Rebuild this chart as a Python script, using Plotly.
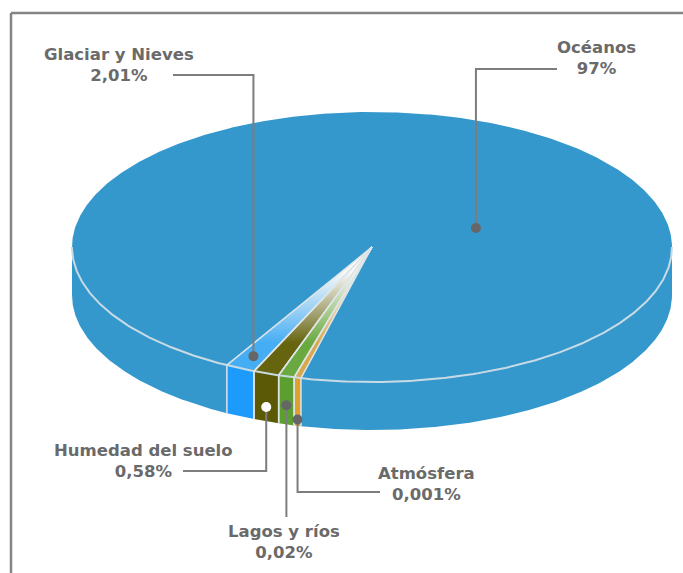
import numpy as np
import plotly.graph_objects as go

# ---- data ---------------------------------------------------------------
categories = ["Océanos", "Glaciar y Nieves", "Humedad del suelo", "Lagos y ríos", "Atmósfera"]
values = [97, 2.01, 0.58, 0.02, 0.001]
value_labels = ["97%", "2,01%", "0,58%", "0,02%", "0,001%"]

# ---- style --------------------------------------------------------------
side_colors = ["#3598cd", "#1d9bfd", "#5b5906", "#5c9e2f", "#e0a12c"]
top_colors = ["#3598cd", "#45adf4", "#67640f", "#69a93f", "#d9a84c"]
TEXT_COLOR = "#6a6a6a"
LEADER_COLOR = "#7d7d7d"
EDGE_COLOR = "#dfe4e7"
RIM_COLOR = "#c8dbe5"

# pie geometry in screen pixels (y grows downward)
CX, CY, RX, RY, DEPTH = 372, 247, 300, 135, 48
START = 103.7          # where the minor slices begin (deg, clockwise on screen)
LOG_FLOOR = 1e-4       # minor slices use a log-scaled width so they stay visible
DEG_PER_DECADE = 1.34

# label placement: anchor face, position along slice, radial/depth fraction,
# elbow y, end x of horizontal run (None = straight), label centre
label_style = [
    dict(face="top", p=0.635, f=0.374, ly=69, lx=557, tx=596, ty=58),
    dict(face="top", p=0.5, f=0.90, ly=75, lx=173, tx=119, ty=65),
    dict(face="side", p=0.5, f=0.70, ly=471, lx=183, tx=143, ty=461),
    dict(face="side", p=0.5, f=0.60, ly=517, lx=None, tx=284, ty=542),
    dict(face="side", p=0.5, f=0.87, ly=492, lx=380, tx=426, ty=484),
]
marker_fill = ["#666666", "#666666", "#ffffff", "#666666", "#666666"]


def pt(t_deg, f=1.0, dz=0.0):
    t = np.radians(t_deg)
    return CX + RX * f * np.cos(t), CY + RY * f * np.sin(t) + dz


def arc(a, b, f=1.0, dz=0.0, n=None):
    n = n or max(4, int(abs(b - a) * 2))
    ts = np.linspace(a, b, n)
    xs, ys = pt(ts, f, dz)
    return list(xs), list(ys)


# slice angular ranges: minor slices from START upward, oceans take the rest
spans = [0.0] * len(values)
for i in range(1, len(values)):
    spans[i] = DEG_PER_DECADE * np.log10(values[i] / LOG_FLOOR)
spans[0] = 360.0 - sum(spans[1:])

ranges = [None] * len(values)
a = START
for i in [4, 3, 2, 1, 0]:
    ranges[i] = (a, a + spans[i])
    a += spans[i]

fig = go.Figure()

# ---- side walls (front half only: 0..180 deg) ---------------------------
for i in [0, 1, 2, 3, 4]:
    a, b = ranges[i]
    for k in (0, 360, 720):
        lo, hi = max(a, k), min(b, k + 180)
        if hi <= lo:
            continue
        tx, ty = arc(lo, hi)
        bx, by = arc(hi, lo, dz=DEPTH)
        fig.add_trace(go.Scatter(
            x=tx + bx + [tx[0]], y=ty + by + [ty[0]], mode="lines",
            fill="toself", fillcolor=side_colors[i], line=dict(width=0),
            hoverinfo="skip", showlegend=False))

# vertical edges between the minor slices on the wall
for i in [1, 2, 3, 4]:
    for t in ranges[i]:
        x0, y0 = pt(t)
        x1, y1 = pt(t, dz=DEPTH)
        fig.add_trace(go.Scatter(
            x=[x0, x1], y=[y0, y1], mode="lines",
            line=dict(color=EDGE_COLOR, width=1.5),
            hoverinfo="skip", showlegend=False))

# ---- top face ------------------------------------------------------------
for i in [0, 1, 2, 3, 4]:
    a, b = ranges[i]
    ax_, ay_ = arc(a, b)
    xs = [CX] + ax_ + [CX]
    ys = [CY] + ay_ + [CY]
    if i == 0:
        fig.add_trace(go.Scatter(
            x=xs, y=ys, mode="lines", fill="toself",
            fillcolor=top_colors[i], line=dict(width=0),
            name=categories[i], hoverinfo="name", showlegend=False))
    else:
        fig.add_trace(go.Scatter(
            x=xs, y=ys, mode="lines", fill="toself",
            fillgradient=dict(
                type="vertical", start=CY, stop=CY + RY * 0.95,
                colorscale=[[0, "#ffffff"], [0.2, "#f6f7f6"],
                            [0.75, top_colors[i]], [1, top_colors[i]]]),
            line=dict(width=0),
            name=categories[i], hoverinfo="name", showlegend=False))

# rim between top face and wall
rx_, ry_ = arc(0, 180, n=360)
fig.add_trace(go.Scatter(x=rx_, y=ry_, mode="lines",
                         line=dict(color=RIM_COLOR, width=2),
                         hoverinfo="skip", showlegend=False))

# radial edges of the minor slices
for i in [1, 2, 3, 4]:
    for t in ranges[i]:
        x1, y1 = pt(t)
        fig.add_trace(go.Scatter(
            x=[CX, x1], y=[CY, y1], mode="lines",
            line=dict(color=EDGE_COLOR, width=1.5),
            hoverinfo="skip", showlegend=False))

# ---- leaders, markers and labels ----------------------------------------
for i, st in enumerate(label_style):
    a, b = ranges[i]
    t = a + st["p"] * (b - a)
    if st["face"] == "top":
        mx, my = pt(t, st["f"])
    else:
        mx, my = pt(t, 1.0, DEPTH * st["f"])
    px = [mx, mx]
    py = [my, st["ly"]]
    if st["lx"] is not None:
        px.append(st["lx"])
        py.append(st["ly"])
    fig.add_trace(go.Scatter(x=px, y=py, mode="lines",
                             line=dict(color=LEADER_COLOR, width=2),
                             hoverinfo="skip", showlegend=False))
    fig.add_trace(go.Scatter(x=[mx], y=[my], mode="markers",
                             marker=dict(size=10, color=marker_fill[i],
                                         line=dict(width=0)),
                             hoverinfo="skip", showlegend=False))
    fig.add_annotation(
        x=st["tx"], y=st["ty"], xref="x", yref="y",
        text=f"{categories[i]}<br>{value_labels[i]}",
        showarrow=False, align="center",
        font=dict(family="DejaVu Sans", size=16.5, color=TEXT_COLOR, weight="bold"))

# frame
fig.add_shape(type="line", x0=11, y0=13, x1=690, y1=13, xref="x", yref="y",
              line=dict(color="#848484", width=2.5))
fig.add_shape(type="line", x0=11, y0=13, x1=11, y1=590, xref="x", yref="y",
              line=dict(color="#848484", width=2.5))

fig.update_layout(
    width=683, height=573,
    margin=dict(l=0, r=0, t=0, b=0),
    paper_bgcolor="white", plot_bgcolor="white",
    xaxis=dict(range=[0, 683], visible=False, fixedrange=True),
    yaxis=dict(range=[573, 0], visible=False, fixedrange=True),
    showlegend=False,
)

fig.write_html("out.html")
